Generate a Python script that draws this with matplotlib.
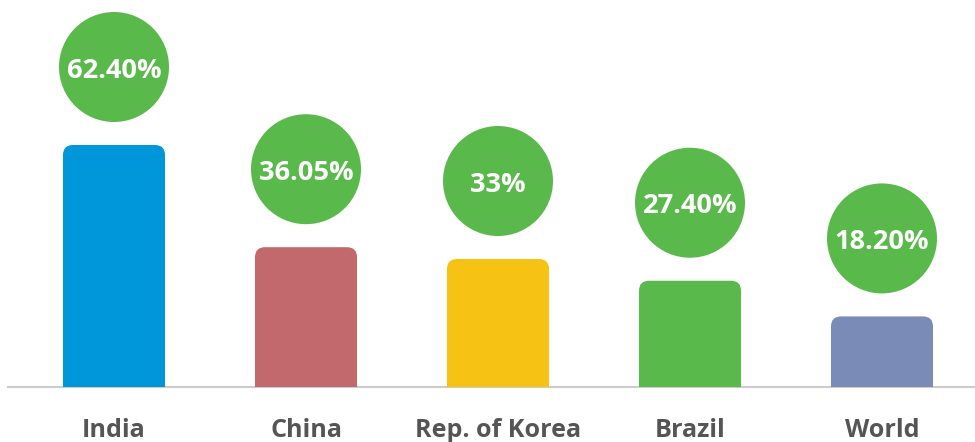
import matplotlib
matplotlib.use("Agg")
import matplotlib.pyplot as plt
from matplotlib.patches import FancyBboxPatch, Rectangle, Ellipse

# shares by country
countries = ["India", "China", "Rep. of Korea", "Brazil", "World"]
values = [62.40, 36.05, 33, 27.40, 18.20]
value_labels = ["62.40%", "36.05%", "33%", "27.40%", "18.20%"]
bar_colors = ["#0096da", "#c1696c", "#f6c315", "#5ab94b", "#7a8bb7"]
bubble_color = "#5ab94b"

W, H, DPI = 975, 442, 100
fig = plt.figure(figsize=(W / DPI, H / DPI), dpi=DPI)
ax = fig.add_axes([0, 0, 1, 1])
ax.set_axis_off()

# scales: pixels per category step and per percentage point
px_x = 192.0
px_y = 242.0 / 62.4
x0_px = 114.0      # centre of first bar from left edge
base_px = 55.0     # baseline above bottom edge
ax.set_xlim(-x0_px / px_x, (W - x0_px) / px_x)
ax.set_ylim(-base_px / px_y, (H - base_px) / px_y)

bar_w = 102 / px_x
corner = 10 / px_x
r_px = 55
gap_px = 78
pt = 72 / DPI

for i, (v, lab, c) in enumerate(zip(values, value_labels, bar_colors)):
    left = i - bar_w / 2
    ax.add_patch(FancyBboxPatch((left, 0), bar_w, v,
                                boxstyle=f"round,pad=0,rounding_size={corner}",
                                mutation_aspect=px_x / px_y,
                                fc=c, ec="none", zorder=2))
    ax.add_patch(Rectangle((left, 0), bar_w, v / 2, fc=c, ec="none", zorder=2))

    cy = v + gap_px / px_y
    ax.add_patch(Ellipse((i, cy), 2 * r_px / px_x, 2 * r_px / px_y,
                         fc=bubble_color, ec="none", zorder=3))
    ax.annotate(lab, (i, cy), xytext=(0, -10.5 * pt), textcoords="offset points",
                ha="center", va="baseline", color="white", fontsize=19.6,
                fontweight="bold", family="Open Sans", zorder=4)
    ax.annotate(countries[i], (i, 0), xytext=(0, -50 * pt), textcoords="offset points",
                ha="center", va="baseline", color="#555555", fontsize=18.1,
                fontweight="bold", family="Open Sans")

ax.axhline(0, xmin=8 / W, xmax=1, color="#cccccc", lw=1.5, zorder=1)

fig.savefig("out.png", dpi=DPI)
